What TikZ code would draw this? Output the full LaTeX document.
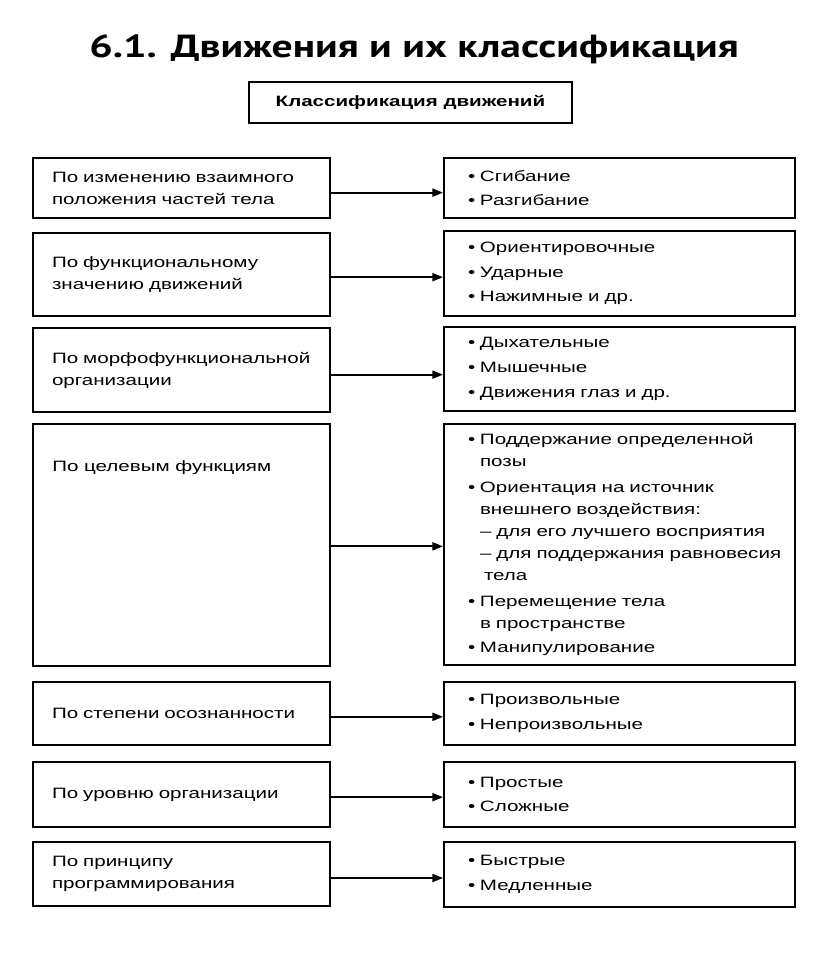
\documentclass[tikz,border=0pt]{standalone}
\usepackage{fontspec}
\setmainfont[FakeStretch=1.37]{Liberation Sans}
\newfontfamily\titlefont[FakeStretch=1.3]{PT Sans}
\usetikzlibrary{arrows.meta}
\newcommand\bul{\makebox[9pt][l]{•}}
\newcommand\ind{\hspace*{9pt}}
\begin{document}
\begin{tikzpicture}[x=0.75pt,y=-0.75pt,
  txt/.style={font=\fontsize{11.25pt}{16.5pt}\selectfont},
  box/.style={draw, line width=1.4pt, rectangle, inner ysep=0pt, txt},
  lbox/.style={box, align=left, text width=194.25pt, inner xsep=14.25pt},
  rbox/.style={box, align=left, text width=227.25pt, inner xsep=18pt},
  arr/.style={line width=1.4pt, -{Triangle[length=8pt,width=6pt]}}]
\useasboundingbox (0,0) rectangle (816,979);

\node[anchor=base, font=\titlefont\bfseries\fontsize{24pt}{28pt}\selectfont] (title) at (414,57) {6.1. Движения и их классификация};
\node[box, minimum width=242.25pt, minimum height=30.75pt, font=\fontsize{11.25pt}{14pt}\selectfont\bfseries] (hdr) at (410.5,102.5) {Классификация движений};

% left column
\node[lbox, minimum height=45pt] (l1) at (181.5,188) {По изменению взаимного\\положения частей тела};
\node[lbox, minimum height=62.25pt] (l2) at (181.5,274.5) {По функциональному\\значению движений};
\node[lbox, minimum height=63pt] (l3) at (181.5,370) {По морфофункциональной\\организации};
\node[lbox, minimum height=181.5pt] (l4) at (181.5,545) {};
\node[txt, anchor=west, inner sep=0pt] (l4t) at (52,468) {По целевым функциям};
\node[lbox, minimum height=47.25pt] (l5) at (181.5,713.5) {По степени осознанности};
\node[lbox, minimum height=48.75pt] (l6) at (181.5,794.5) {По уровню организации};
\node[lbox, minimum height=48pt] (l7) at (181.5,874) {По принципу\\программирования};

% right column
\node[rbox, minimum height=45pt] (r1) at (619.5,188) {\bul Сгибание\\[2pt]\bul Разгибание};
\node[rbox, minimum height=63.75pt] (r2) at (619.5,273.5) {\bul Ориентировочные\\[2pt]\bul Ударные\\[2pt]\bul Нажимные и др.};
\node[rbox, minimum height=63pt] (r3) at (619.5,369) {\bul Дыхательные\\[2pt]\bul Мышечные\\[2pt]\bul Движения глаз и др.};
\node[rbox, minimum height=180.75pt] (r4) at (619.5,544.5) {\bul Поддержание определенной\\\ind позы\\[3pt]\bul Ориентация на источник\\\ind внешнего воздействия:\\\ind\mbox{– для его лучшего восприятия}\\\ind\mbox{– для поддержания равновесия}\\\hspace*{12pt}тела\\[3pt]\bul Перемещение тела\\\ind в пространстве\\[2pt]\bul Манипулирование};
\node[rbox, minimum height=47.25pt] (r5) at (619.5,713.5) {\bul Произвольные\\[2pt]\bul Непроизвольные};
\node[rbox, minimum height=48.75pt] (r6) at (619.5,794.5) {\bul Простые\\[2pt]\bul Сложные};
\node[rbox, minimum height=48.75pt] (r7) at (619.5,874.5) {\bul Быстрые\\[2pt]\bul Медленные};

% connectors
\draw[arr] ([yshift=-3.5pt]l1.east) -- ([yshift=-3.5pt]l1.east -| r1.west);
\draw[arr] ([yshift=-2pt]l2.east) -- ([yshift=-2pt]l2.east -| r2.west);
\draw[arr] ([yshift=-3.5pt]l3.east) -- ([yshift=-3.5pt]l3.east -| r3.west);
\draw[arr] ([yshift=-1pt]l4.east) -- ([yshift=-1pt]l4.east -| r4.west);
\draw[arr] ([yshift=-2.5pt]l5.east) -- ([yshift=-2.5pt]l5.east -| r5.west);
\draw[arr] ([yshift=-2pt]l6.east) -- ([yshift=-2pt]l6.east -| r6.west);
\draw[arr] ([yshift=-3pt]l7.east) -- ([yshift=-3pt]l7.east -| r7.west);
\end{tikzpicture}
\end{document}
